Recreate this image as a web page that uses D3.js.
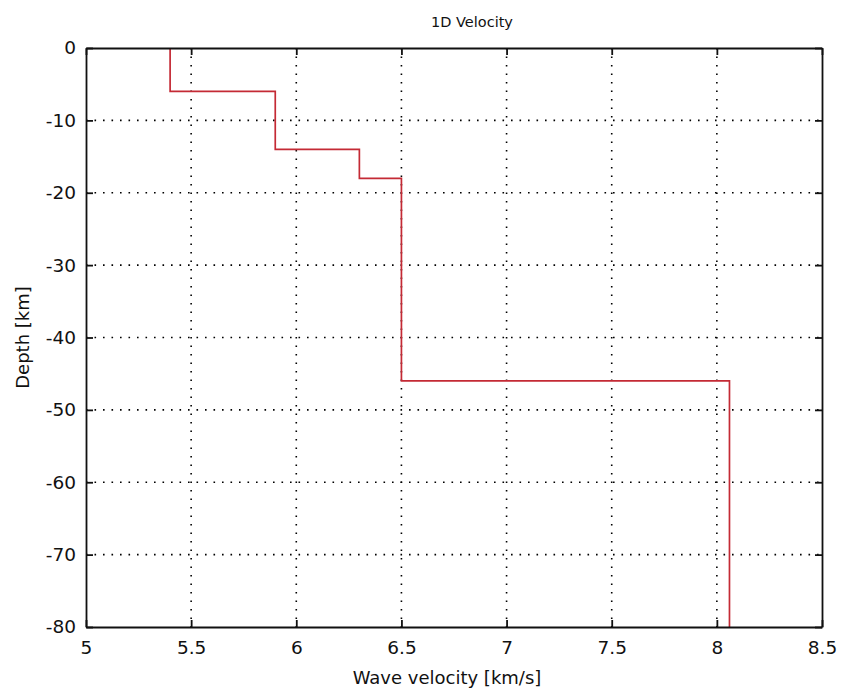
<!DOCTYPE html>
<html><head><meta charset="utf-8">
<script src="https://cdn.jsdelivr.net/npm/d3@7"></script>
<style>body{margin:0;background:#fff}svg{display:block}text{font-family:"DejaVu Sans",sans-serif;fill:#111}</style>
</head><body><svg id="c" width="841" height="693"></svg>
<script>
// Step profile: velocity per layer and layer boundaries (depth, km)
const velocities = [5.4, 5.9, 6.3, 6.5, 8.06];
const layerTops = [0, -6, -14, -18, -46];
const layerBottoms = [-6, -14, -18, -46, -80];
const xTicks = [5, 5.5, 6, 6.5, 7, 7.5, 8, 8.5];
const yTicks = [0, -10, -20, -30, -40, -50, -60, -70, -80];
const xTickLabels = ["5","5.5","6","6.5","7","7.5","8","8.5"];
const yTickLabels = ["0","-10","-20","-30","-40","-50","-60","-70","-80"];

const L = 86, R = 822, T = 48, B = 627;
const svg = d3.select("#c");
const x = d3.scaleLinear().domain([5, 8.5]).range([L, R]);
const y = d3.scaleLinear().domain([-80, 0]).range([B, T]);

// grid
const g = svg.append("g");
g.selectAll(".vg").data(xTicks.slice(1, -1)).enter().append("line")
  .attr("x1", d => x(d)).attr("x2", d => x(d)).attr("y1", T).attr("y2", B)
  .attr("stroke", "#000").attr("stroke-width", 1.6).attr("stroke-dasharray", "1.6,6.9");
g.selectAll(".hg").data(yTicks.slice(1, -1)).enter().append("line")
  .attr("y1", d => y(d)).attr("y2", d => y(d)).attr("x1", L).attr("x2", R)
  .attr("stroke", "#000").attr("stroke-width", 1.6).attr("stroke-dasharray", "1.6,6.9");

// step line
const pts = [];
velocities.forEach((v, i) => { pts.push([v, layerTops[i]]); pts.push([v, layerBottoms[i]]); });
svg.append("path").datum(pts)
  .attr("d", d3.line().x(d => x(d[0])).y(d => y(d[1])))
  .attr("fill", "none").attr("stroke", "#c42a35").attr("stroke-width", 1.7);

// axes
const fmtX = (d, i) => xTickLabels[i];
const fmtY = (d, i) => yTickLabels[i];
const ax = [
  svg.append("g").attr("transform", `translate(0,${B})`).call(d3.axisBottom(x).tickValues(xTicks).tickFormat(fmtX).tickSizeInner(-7).tickSizeOuter(0).tickPadding(14)),
  svg.append("g").attr("transform", `translate(${L},0)`).call(d3.axisLeft(y).tickValues(yTicks).tickFormat(fmtY).tickSizeInner(-7).tickSizeOuter(0).tickPadding(10)),
  svg.append("g").attr("transform", `translate(0,${T})`).call(d3.axisTop(x).tickValues(xTicks).tickFormat("").tickSizeInner(-7).tickSizeOuter(0)),
  svg.append("g").attr("transform", `translate(${R},0)`).call(d3.axisRight(y).tickValues(yTicks).tickFormat("").tickSizeInner(-7).tickSizeOuter(0))
];
ax.forEach(a => {
  a.attr("font-size", null).attr("font-family", null);
  a.select(".domain").attr("stroke", "#111").attr("stroke-width", 1.8);
  a.selectAll(".tick line").attr("stroke", "#111").attr("stroke-width", 1.8);
  a.selectAll(".tick text").style("font-size", "18.5px").attr("fill", "#222");
});

svg.append("text").attr("x", (L + R) / 2 + 18).attr("y", 27).attr("text-anchor", "middle").style("font-size", "14.5px").text("1D Velocity");
svg.append("text").attr("x", (L + R) / 2 - 7).attr("y", 684).attr("text-anchor", "middle").style("font-size", "18px").text("Wave velocity [km/s]");
svg.append("text").attr("transform", `translate(29,${(T + B) / 2}) rotate(-90)`).attr("text-anchor", "middle").style("font-size", "18px").text("Depth [km]");
</script></body></html>
